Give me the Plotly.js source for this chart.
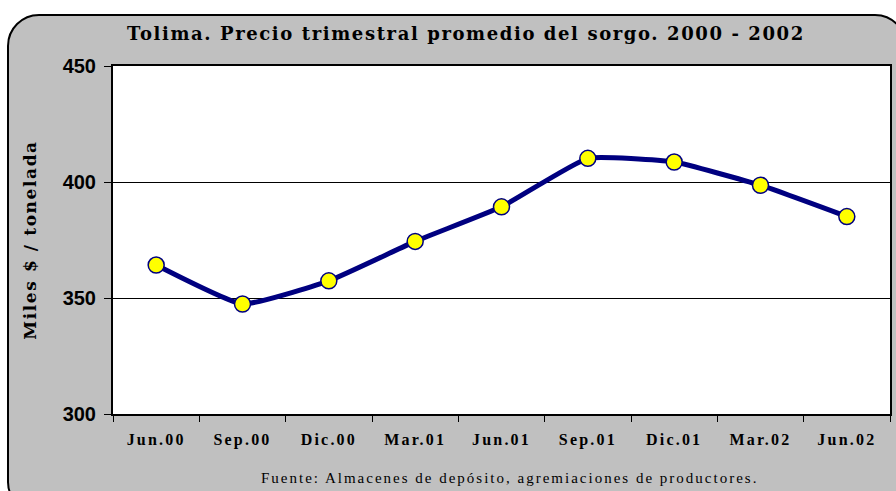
<!DOCTYPE html>
<html>
<head>
<meta charset="utf-8">
<script src="https://cdn.plot.ly/plotly-3.0.1.min.js"></script>
<style>
  html, body { margin: 0; padding: 0; background: #ffffff; width: 896px; height: 491px; overflow: hidden; }
  #frame { position: absolute; left: 7px; top: 14px; width: 900px; height: 500px;
           background: #C0C0C0; border: 2px solid #000; border-radius: 32px; box-sizing: border-box; }
  #chart { position: absolute; left: 0; top: 0; width: 896px; height: 491px; }
  #chart .gtitle { letter-spacing: 1.6px; }
  #chart .xtick text { letter-spacing: 2.2px; }
  #chart .ytitle { letter-spacing: 1.6px; }
  #chart .annotation-text { letter-spacing: 2px; }
</style>
</head>
<body>
<div id="frame"></div>
<div id="chart"></div>
<script>
const categories = ["Jun.00", "Sep.00", "Dic.00", "Mar.01", "Jun.01", "Sep.01", "Dic.01", "Mar.02", "Jun.02"];
const precios = [364.2, 347.4, 357.4, 374.4, 389.3, 410.2, 408.6, 398.6, 385.1];
const yTicks = [300, 350, 400, 450];

const trace = {
  x: categories,
  y: precios,
  type: "scatter",
  mode: "lines+markers",
  line: { color: "#000080", width: 5, shape: "spline", smoothing: 0.4 },
  marker: { color: "#FFFF00", size: 16, line: { color: "#000080", width: 1.5 } },
  hoverinfo: "x+y"
};

const layout = {
  width: 896, height: 491,
  paper_bgcolor: "rgba(0,0,0,0)",
  plot_bgcolor: "#ffffff",
  margin: { l: 113, r: 6, t: 66, b: 77 },
  showlegend: false,
  title: {
    text: "Tolima. Precio trimestral promedio del sorgo. 2000 - 2002",
    font: { family: "DejaVu Serif, serif", size: 18, color: "#000", weight: "bold" },
    x: 0.52, xanchor: "center", y: 0.932, yanchor: "middle"
  },
  xaxis: {
    type: "category",
    range: [-0.5, 8.5],
    showline: true, linecolor: "#000", linewidth: 2, mirror: true,
    ticks: "outside", tickson: "boundaries", ticklen: 6, tickwidth: 1, tickcolor: "#000",
    ticklabelstandoff: 10,
    showgrid: false, zeroline: false,
    tickfont: { family: "Liberation Serif, serif", size: 16, color: "#000", weight: "bold" }
  },
  yaxis: {
    range: [300, 450],
    tickvals: yTicks,
    ticktext: yTicks.map(String),
    showline: true, linecolor: "#000", linewidth: 2, mirror: true,
    ticks: "outside", ticklen: 7, tickwidth: 1, tickcolor: "#000",
    showgrid: true, gridcolor: "#000", gridwidth: 1, zeroline: false,
    tickfont: { family: "Liberation Sans, Arial, sans-serif", size: 20, color: "#000", weight: "bold" },
    ticklabelstandoff: 4,
    title: {
      text: "Miles $ / tonelada",
      font: { family: "DejaVu Serif, serif", size: 17, color: "#000", weight: "bold" },
      standoff: 22
    }
  },
  annotations: [{
    text: "Fuente: Almacenes de depósito, agremiaciones de productores.",
    xref: "paper", yref: "paper", x: 0.51, y: -0.185, xanchor: "center", yanchor: "middle",
    showarrow: false,
    font: { family: "Liberation Serif, serif", size: 15, color: "#000" }
  }]
};

Plotly.newPlot("chart", [trace], layout, { displayModeBar: false, staticPlot: true });
</script>
</body>
</html>
